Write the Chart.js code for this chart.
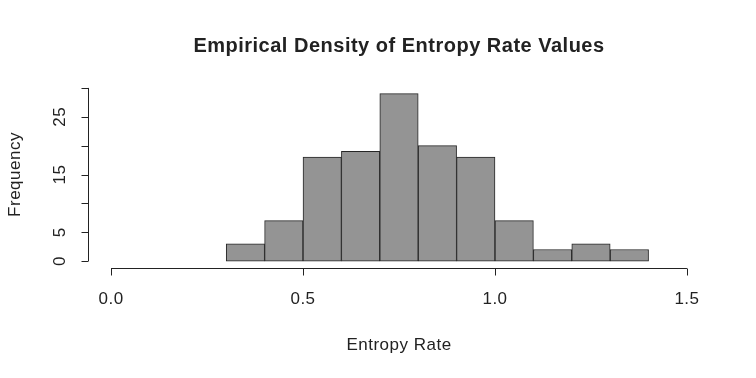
<!DOCTYPE html>
<html lang="en">
<head>
    <meta charset="UTF-8">
    <title>Empirical Density of Entropy Rate Values</title>
    <style>
        * { margin: 0; padding: 0; box-sizing: border-box; }
        body { background: #fff; width: 756px; height: 378px; overflow: hidden; }
        canvas { display: block; }
    </style>
    <script src="https://cdn.jsdelivr.net/npm/chart.js"></script>
</head>
<body>
    <canvas id="histChart" width="756" height="378"></canvas>

    <script>
        // histogram bins (left edges), width 0.1
        const binStarts = [0.3, 0.4, 0.5, 0.6, 0.7, 0.8, 0.9, 1.0, 1.1, 1.2, 1.3];
        const counts = [3, 7, 18, 19, 29, 20, 18, 7, 2, 3, 2];
        const binWidth = 0.1;
        const xTicks = [0, 0.5, 1.0, 1.5];
        const xTickLabels = ['0.0', '0.5', '1.0', '1.5'];
        const yTicks = [0, 5, 10, 15, 20, 25, 30];
        const yTickLabels = ['0', '5', '', '15', '', '25', ''];

        const font = '"Liberation Sans", Arial, Helvetica, sans-serif';

        // draws R-style axes, tick labels and titles
        const rAxes = {
            id: 'rAxes',
            afterDraw(chart) {
                const c = chart.ctx;
                const xs = chart.scales.x, ys = chart.scales.y;
                const area = chart.chartArea;
                c.save();
                c.strokeStyle = '#222';
                c.lineWidth = 1;
                c.fillStyle = '#222';
                c.letterSpacing = '0.5px';

                // x axis
                const xb = Math.round(area.bottom) + 0.5;
                c.beginPath();
                c.moveTo(xs.getPixelForValue(xTicks[0]), xb);
                c.lineTo(xs.getPixelForValue(xTicks[xTicks.length - 1]), xb);
                xTicks.forEach(v => {
                    const px = Math.round(xs.getPixelForValue(v)) + 0.5;
                    c.moveTo(px, xb);
                    c.lineTo(px, xb + 7);
                });
                c.stroke();
                c.font = '17px ' + font;
                c.textAlign = 'center';
                c.textBaseline = 'middle';
                xTicks.forEach((v, i) => {
                    c.fillText(xTickLabels[i], xs.getPixelForValue(v), 299);
                });

                // y axis
                const yl = Math.round(area.left) + 0.5;
                c.beginPath();
                c.moveTo(yl, ys.getPixelForValue(yTicks[0]));
                c.lineTo(yl, ys.getPixelForValue(yTicks[yTicks.length - 1]));
                yTicks.forEach(v => {
                    const py = Math.round(ys.getPixelForValue(v)) + 0.5;
                    c.moveTo(yl, py);
                    c.lineTo(yl - 7, py);
                });
                c.stroke();
                yTicks.forEach((v, i) => {
                    if (!yTickLabels[i]) return;
                    c.save();
                    c.translate(60, ys.getPixelForValue(v));
                    c.rotate(-Math.PI / 2);
                    c.fillText(yTickLabels[i], 0, 0);
                    c.restore();
                });

                // axis titles
                c.fillText('Entropy Rate', (area.left + area.right) / 2, 345);
                c.save();
                c.translate(15, (area.top + area.bottom) / 2);
                c.rotate(-Math.PI / 2);
                c.fillText('Frequency', 0, 0);
                c.restore();

                // main title
                c.font = 'bold 20px ' + font;
                c.fillText('Empirical Density of Entropy Rate Values', (area.left + area.right) / 2, 46);
                c.restore();
            }
        };

        const ctx = document.getElementById('histChart').getContext('2d');
        const histChart = new Chart(ctx, {
            type: 'bar',
            data: {
                datasets: [{
                    label: 'Frequency',
                    data: binStarts.map((b, i) => ({ x: b + binWidth / 2, y: counts[i] })),
                    backgroundColor: '#949494',
                    borderColor: '#262626',
                    borderWidth: 1,
                    borderSkipped: false,
                    barPercentage: 1.0,
                    categoryPercentage: 1.0
                }]
            },
            options: {
                responsive: false,
                animation: false,
                devicePixelRatio: 1,
                layout: { padding: { left: 88, right: 46, top: 81, bottom: 110 } },
                plugins: {
                    legend: { display: false },
                    title: { display: false },
                    tooltip: { enabled: false }
                },
                scales: {
                    x: { type: 'linear', display: false, min: -0.06, max: 1.56, offset: false },
                    y: { display: false, min: -1.2, max: 31.2 }
                }
            },
            plugins: [rAxes]
        });
    </script>
</body>
</html>
